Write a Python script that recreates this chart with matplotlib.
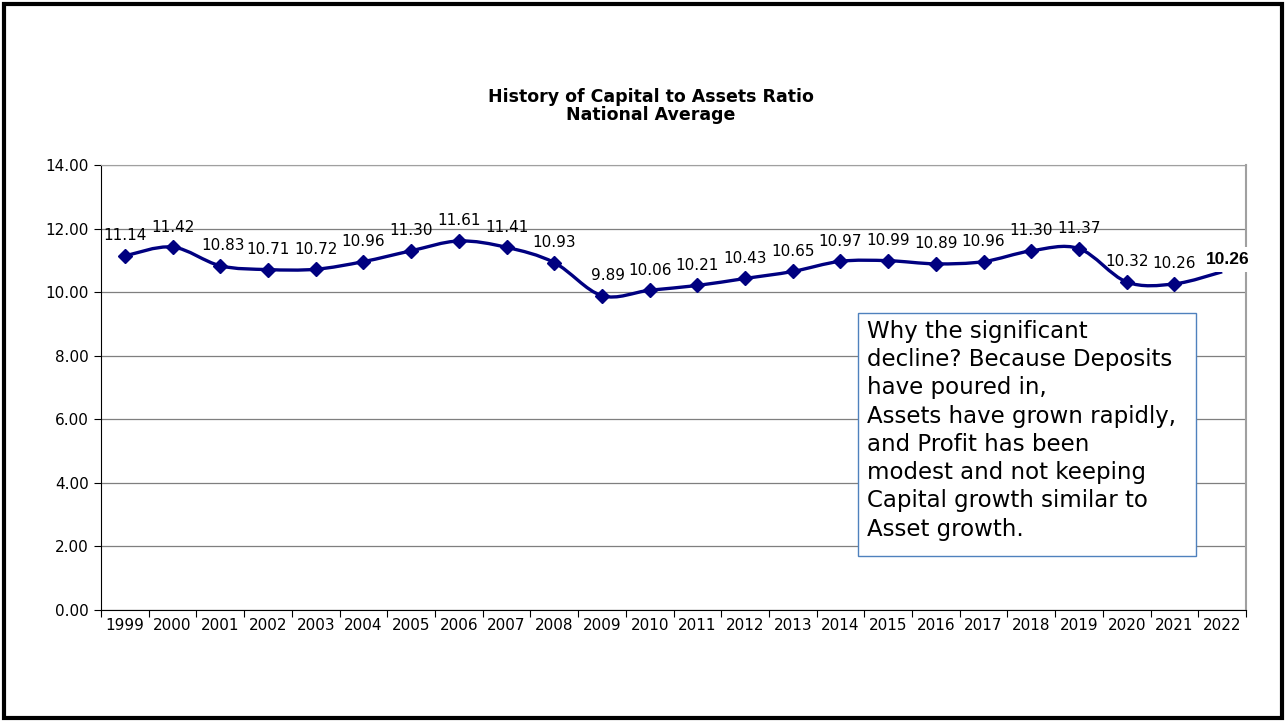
import numpy as np
import matplotlib.pyplot as plt
from matplotlib.path import Path
from matplotlib.patches import PathPatch, Rectangle

# Capital to assets ratio, national average
years = ["1999", "2000", "2001", "2002", "2003", "2004", "2005", "2006",
         "2007", "2008", "2009", "2010", "2011", "2012", "2013", "2014",
         "2015", "2016", "2017", "2018", "2019", "2020", "2021", "2022"]
ratio = [11.14, 11.42, 10.83, 10.71, 10.72, 10.96, 11.30, 11.61,
         11.41, 10.93, 9.89, 10.06, 10.21, 10.43, 10.65, 10.97,
         10.99, 10.89, 10.96, 11.30, 11.37, 10.32, 10.26, 10.64]
last_label = "10.26"  # the bold label shown over the last point
y_ticks = [0, 2, 4, 6, 8, 10, 12, 14]

note = ("Why the significant\n"
        "decline? Because Deposits\n"
        "have poured in,\n"
        "Assets have grown rapidly,\n"
        "and Profit has been\n"
        "modest and not keeping\n"
        "Capital growth similar to\n"
        "Asset growth.")

navy = "#000080"


def smooth_path(x, y):
    # Excel-style smoothed line: cubic Bezier with Catmull-Rom control points
    pts = np.column_stack([x, y])
    verts = [pts[0]]
    codes = [Path.MOVETO]
    n = len(pts)
    for i in range(n - 1):
        p0 = pts[i - 1] if i > 0 else pts[i]
        p1 = pts[i]
        p2 = pts[i + 1]
        p3 = pts[i + 2] if i + 2 < n else pts[i + 1]
        c1 = p1 + (p2 - p0) / 6.0
        c2 = p2 - (p3 - p1) / 6.0
        verts += [c1, c2, p2]
        codes += [Path.CURVE4] * 3
    return Path(verts, codes)


fig = plt.figure(figsize=(12.85, 7.21), dpi=100)
ax = fig.add_axes([101 / 1285, 111 / 721, 1145 / 1285, 445 / 721])

x = np.arange(len(years))
ax.add_patch(PathPatch(smooth_path(x, ratio), facecolor="none",
                       edgecolor=navy, linewidth=2.4, zorder=3))
ax.plot(x[:-1], ratio[:-1], linestyle="none", marker="D", markersize=7.5,
        color=navy, zorder=4)

# data labels above each point
label_dx = {2: 3, 10: 6}
for i, v in enumerate(ratio[:-1]):
    ax.annotate(f"{v:.2f}", (x[i], v), xytext=(label_dx.get(i, 0) * 0.72, 9),
                textcoords="offset points", ha="center", va="bottom",
                fontsize=11, color="black", zorder=5)
ax.annotate(last_label, (x[-1], ratio[-1]), xytext=(4, 9),
            textcoords="offset points", ha="center", va="center",
            fontsize=12.5, fontweight="bold", family="Liberation Sans",
            bbox=dict(boxstyle="square,pad=0.3", fc="white", ec="none"),
            zorder=6)

ax.set_xlim(-0.5, len(years) - 0.5)
ax.set_ylim(0, 14)
ax.set_yticks(y_ticks)
ax.set_yticklabels([f"{t:.2f}" for t in y_ticks], fontsize=11)
ax.set_xticks(np.arange(len(years) + 1) - 0.5)
ax.set_xticklabels([])
ax.set_xticks(x, minor=True)
ax.set_xticklabels(years, minor=True, fontsize=11)
ax.tick_params(axis="x", which="minor", length=0, pad=6)
ax.tick_params(axis="x", which="major", length=5, direction="out")
ax.tick_params(axis="y", length=5, direction="out", pad=4)

ax.grid(axis="y", color="#7f7f7f", linewidth=0.9)
ax.set_axisbelow(True)
ax.spines["left"].set_color("black")
ax.spines["bottom"].set_color("black")
ax.spines["top"].set_color("#a0a0a0")
ax.spines["right"].set_color("#a0a0a0")
ax.spines["right"].set_linewidth(1.5)

fig.text(651 / 1285, 1 - 106 / 721,
         "History of Capital to Assets Ratio\nNational Average",
         ha="center", va="center", fontsize=12.5, fontweight="bold",
         family="DejaVu Sans", linespacing=0.95)

# annotation box
fig.patches.append(Rectangle((858 / 1285, 1 - 556 / 721), 338 / 1285, 243 / 721,
                             transform=fig.transFigure, facecolor="white",
                             edgecolor="#4f81bd", linewidth=1.0, zorder=10))
fig.text(867 / 1285, 1 - 320 / 721, note, ha="left", va="top",
         fontsize=16.5, linespacing=1.29, color="black", zorder=11)

# outer frame
fig.patches.append(Rectangle((3.5 / 1285, 3.5 / 721), 1278 / 1285, 714 / 721,
                             transform=fig.transFigure, facecolor="none",
                             edgecolor="black", linewidth=3, zorder=20))

fig.savefig("out.png", dpi=100)
